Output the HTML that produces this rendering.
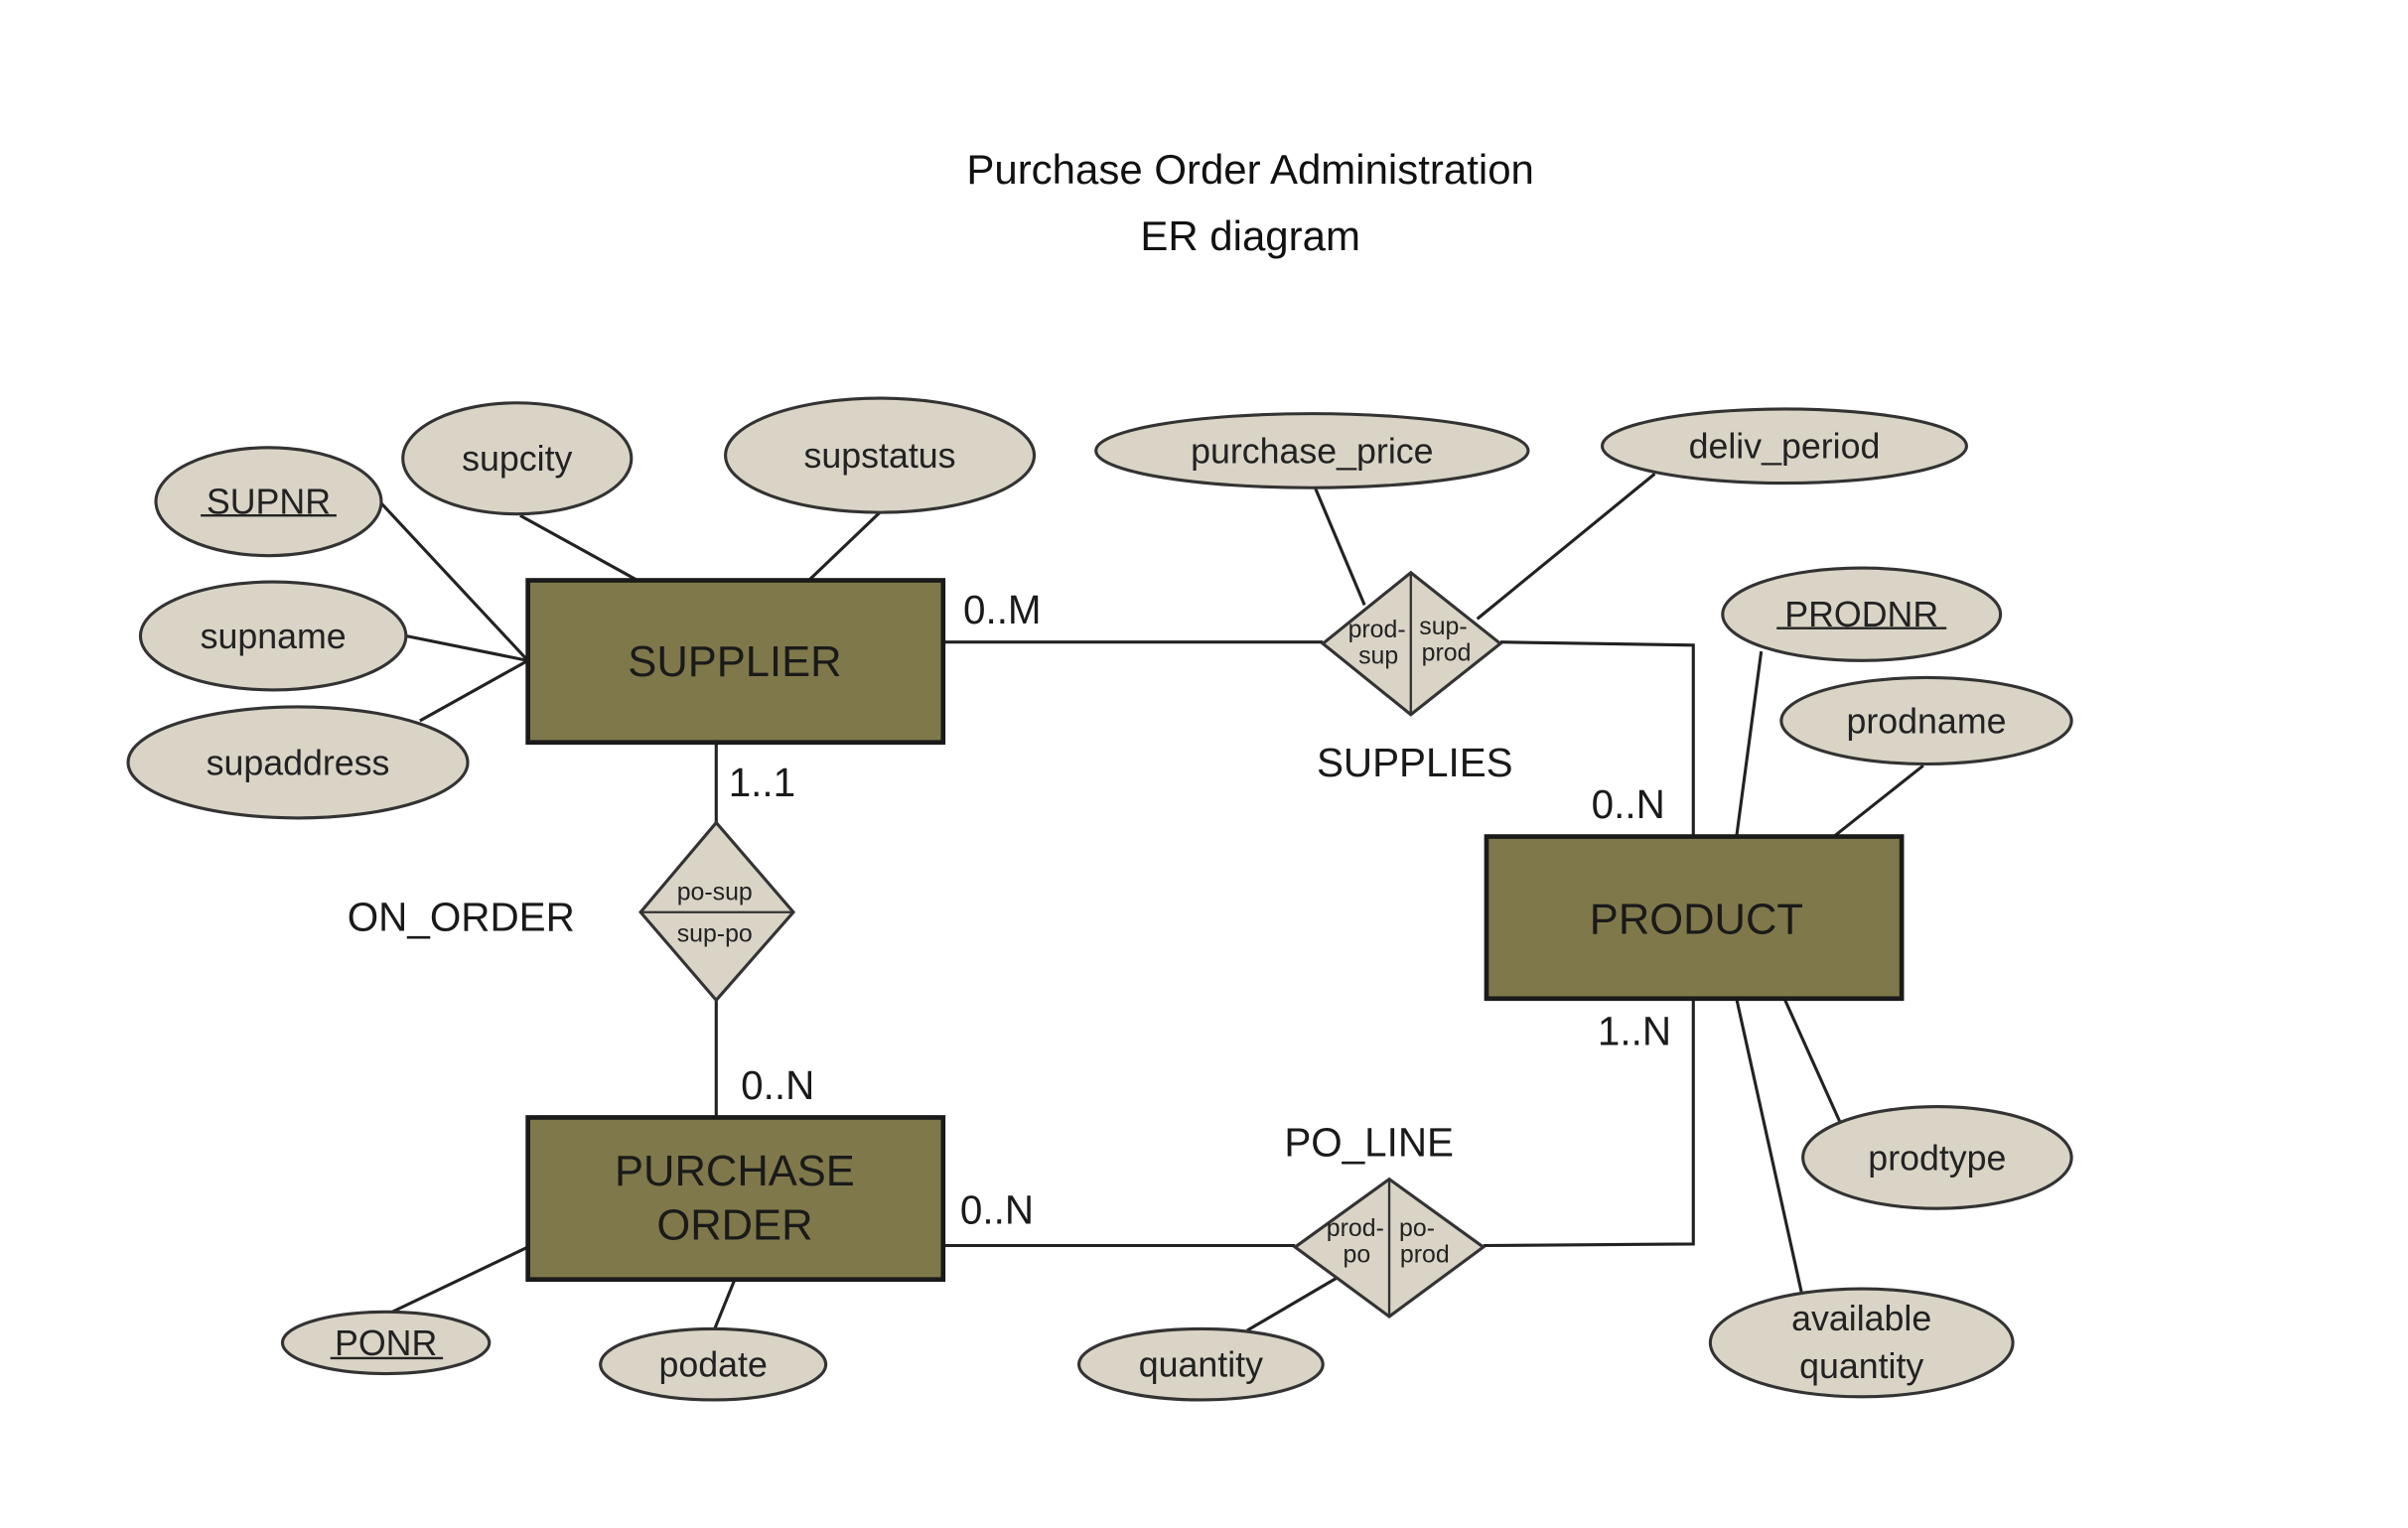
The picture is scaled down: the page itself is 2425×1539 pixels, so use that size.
<!DOCTYPE html>
<html><head><meta charset="utf-8"><style>html,body{margin:0;padding:0;background:#fff}svg{display:block}</style></head>
<body>
<svg width="2425" height="1539" viewBox="0 0 1560 990" xmlns="http://www.w3.org/2000/svg" font-family="Liberation Sans, sans-serif">
<rect width="1560" height="990" fill="#fff"/>
<g font-family="Liberation Sans, sans-serif" font-size="27" fill="#111" text-anchor="middle">
<text x="810" y="119">Purchase Order Administration</text>
<text x="810" y="162">ER diagram</text>
</g>
<g stroke="#222" stroke-width="2" fill="none">
<polyline points="611,416 857,416"/>
<polyline points="972,416 1097,418 1097,542"/>
<line x1="464" y1="481" x2="464" y2="533"/>
<line x1="464" y1="648" x2="464" y2="724"/>
<line x1="611" y1="807" x2="839" y2="807"/>
<polyline points="961,807 1097,806 1097,647"/>
<line x1="246" y1="325" x2="342" y2="428"/>
<line x1="263" y1="412" x2="342" y2="428"/>
<line x1="272" y1="467" x2="342" y2="428"/>
<line x1="337" y1="334" x2="413" y2="376"/>
<line x1="570" y1="332" x2="524" y2="376"/>
<line x1="852" y1="316" x2="884" y2="392"/>
<line x1="1072" y1="307" x2="957" y2="401"/>
<line x1="1141" y1="422" x2="1125" y2="542"/>
<line x1="1246" y1="496" x2="1188" y2="542"/>
<line x1="1192" y1="727" x2="1156" y2="647"/>
<line x1="1167" y1="837" x2="1125" y2="647"/>
<line x1="252" y1="851" x2="342" y2="808"/>
<line x1="463" y1="861" x2="476" y2="829"/>
<line x1="808" y1="862" x2="866" y2="828"/>
</g>
<g fill="#7f784a" stroke="#1a1a1a" stroke-width="3">
<rect x="342" y="376" width="269" height="105"/>
<rect x="963" y="542" width="269" height="105"/>
<rect x="342" y="724" width="269" height="105"/>
</g>
<g fill="#d9d4c6" stroke="#333" stroke-width="2">
<ellipse cx="174" cy="325" rx="73" ry="35"/>
<ellipse cx="335" cy="297" rx="74" ry="36"/>
<ellipse cx="570" cy="295" rx="100" ry="37"/>
<ellipse cx="177" cy="412" rx="86" ry="35"/>
<ellipse cx="193" cy="494" rx="110" ry="36"/>
<ellipse cx="850" cy="292" rx="140" ry="24"/>
<ellipse cx="1156" cy="289" rx="118" ry="24"/>
<ellipse cx="1206" cy="398" rx="90" ry="30"/>
<ellipse cx="1248" cy="467" rx="94" ry="28"/>
<ellipse cx="1255" cy="750" rx="87" ry="33"/>
<ellipse cx="1206" cy="870" rx="98" ry="35"/>
<ellipse cx="250" cy="870" rx="67" ry="20"/>
<ellipse cx="462" cy="884" rx="73" ry="23"/>
<ellipse cx="778" cy="884" rx="79" ry="23"/>
<polygon points="464,533 514,591 464,648 415,591"/>
<polygon points="914,371 972,417 914,463 857,417"/>
<polygon points="900,764 961,808 900,853 839,808"/>
</g>
<g stroke="#333" stroke-width="1.5">
<line x1="415" y1="591" x2="514" y2="591"/>
<line x1="914" y1="371" x2="914" y2="463"/>
<line x1="900" y1="764" x2="900" y2="853"/>
</g>
<g fill="#222" text-anchor="middle" font-size="23">
<text x="174" y="333">SUPNR</text>
<text x="335" y="305">supcity</text>
<text x="570" y="303">supstatus</text>
<text x="177" y="420">supname</text>
<text x="193" y="502">supaddress</text>
<text x="850" y="300">purchase_price</text>
<text x="1156" y="297">deliv_period</text>
<text x="1206" y="406">PRODNR</text>
<text x="1248" y="475">prodname</text>
<text x="1255" y="758">prodtype</text>
<text x="1206" y="862">available</text>
<text x="1206" y="893">quantity</text>
<text x="250" y="878">PONR</text>
<text x="462" y="892">podate</text>
<text x="778" y="892">quantity</text>
</g>
<g stroke="#222" stroke-width="1.5">
<line x1="130" y1="334" x2="218" y2="334"/>
<line x1="1151" y1="407" x2="1261" y2="407"/>
<line x1="214" y1="880" x2="287" y2="880"/>
</g>
<g fill="#222" font-size="16" text-anchor="middle">
<text x="463" y="583">po-sup</text>
<text x="463" y="610">sup-po</text>
<text x="892" y="413">prod-</text>
<text x="893" y="430">sup</text>
<text x="935" y="411">sup-</text>
<text x="937" y="428">prod</text>
<text x="878" y="801">prod-</text>
<text x="879" y="818">po</text>
<text x="918" y="801">po-</text>
<text x="923" y="818">prod</text>
</g>
<g fill="#1a1a1a" text-anchor="middle" font-size="28">
<text x="476" y="438">SUPPLIER</text>
<text x="1099" y="605">PRODUCT</text>
<text x="476" y="768">PURCHASE</text>
<text x="476" y="803">ORDER</text>
</g>
<g fill="#1a1a1a" font-size="26">
<text x="624" y="404">0..M</text>
<text x="472" y="516">1..1</text>
<text x="225" y="603">ON_ORDER</text>
<text x="853" y="503">SUPPLIES</text>
<text x="1031" y="530">0..N</text>
<text x="1035" y="677">1..N</text>
<text x="480" y="712">0..N</text>
<text x="832" y="749">PO_LINE</text>
<text x="622" y="793">0..N</text>
</g>
</svg>
</body></html>
